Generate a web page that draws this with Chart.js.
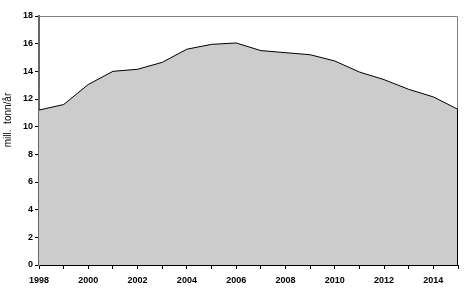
<!DOCTYPE html>
<html>
<head>
<meta charset="utf-8">
<script src="https://cdn.jsdelivr.net/npm/chart.js@4"></script>
<style>
  html, body { margin: 0; padding: 0; background: #fff; }
  #wrap { width: 476px; height: 296px; }
</style>
</head>
<body>
<div id="wrap"><canvas id="chart1" width="476" height="296"></canvas></div>
<script>
const years = [1998, 1999, 2000, 2001, 2002, 2003, 2004, 2005, 2006,
               2007, 2008, 2009, 2010, 2011, 2012, 2013, 2014, 2015];
const amounts = [11.2, 11.6, 13.05, 14.0, 14.15, 14.65, 15.6, 15.95, 16.05,
                 15.5, 15.35, 15.2, 14.75, 13.95, 13.4, 12.7, 12.15, 11.25];
const yTitle = 'mill.  tonn/år';

const points = years.map((yr, i) => ({ x: yr, y: amounts[i] }));

// frame on top/right plus black closing edge at the end of the area
const framePlugin = {
    id: 'frame',
    beforeDatasetsDraw(chart) {
        const a = chart.chartArea, c = chart.ctx;
        c.save();
        c.strokeStyle = '#808080';
        c.lineWidth = 1;
        c.beginPath();
        c.moveTo(a.left, a.top + 0.5);
        c.lineTo(a.right - 0.5, a.top + 0.5);
        c.lineTo(a.right - 0.5, a.bottom);
        c.stroke();
        c.restore();
    },
    afterDatasetsDraw(chart) {
        const c = chart.ctx;
        const xs = chart.scales.x, ys = chart.scales.y;
        const last = points[points.length - 1];
        const px = Math.round(xs.getPixelForValue(last.x)) - 0.5;
        c.save();
        c.strokeStyle = '#000';
        c.lineWidth = 1;
        c.beginPath();
        c.moveTo(px, ys.getPixelForValue(last.y));
        c.lineTo(px, ys.getPixelForValue(0));
        c.stroke();
        // y axis title
        c.translate(8, 120);
        c.rotate(-Math.PI / 2);
        c.font = '10px "Liberation Sans", Arial, sans-serif';
        c.fillStyle = '#000';
        c.textAlign = 'center';
        c.textBaseline = 'middle';
        c.fillText(yTitle, 0, 0);
        c.restore();
    }
};

const ctx1 = document.getElementById('chart1').getContext('2d');
const chart1 = new Chart(ctx1, {
    type: 'line',
    data: {
        datasets: [{
            data: points,
            borderColor: '#000',
            borderWidth: 1,
            backgroundColor: '#cccccc',
            fill: 'origin',
            pointRadius: 0,
            tension: 0
        }]
    },
    options: {
        responsive: false,
        animation: false,
        layout: { padding: { top: 16, right: 18, left: 0, bottom: 0 } },
        plugins: { legend: { display: false }, tooltip: { enabled: false } },
        scales: {
            x: {
                type: 'linear',
                min: 1998,
                max: 2015,
                afterFit(s) { s.height = 31; },
                ticks: {
                    stepSize: 1,
                    autoSkip: false,
                    maxRotation: 0,
                    padding: 6,
                    color: '#000',
                    font: { family: '"Liberation Sans", Arial, sans-serif', size: 9, weight: 'bold' },
                    callback: v => (v % 2 === 0 ? String(v) : '')
                },
                grid: { drawOnChartArea: false, tickLength: 4, color: '#000' },
                border: { color: '#000', width: 1 }
            },
            y: {
                min: 0,
                max: 18,
                afterFit(s) { s.width = 39; },
                ticks: {
                    stepSize: 2,
                    padding: 2,
                    color: '#000',
                    font: { family: '"Liberation Sans", Arial, sans-serif', size: 9, weight: 'bold' }
                },
                grid: { drawOnChartArea: false, tickLength: 4, color: '#000' },
                border: { color: '#666', width: 2 }
            }
        }
    },
    plugins: [framePlugin]
});
</script>
</body>
</html>
